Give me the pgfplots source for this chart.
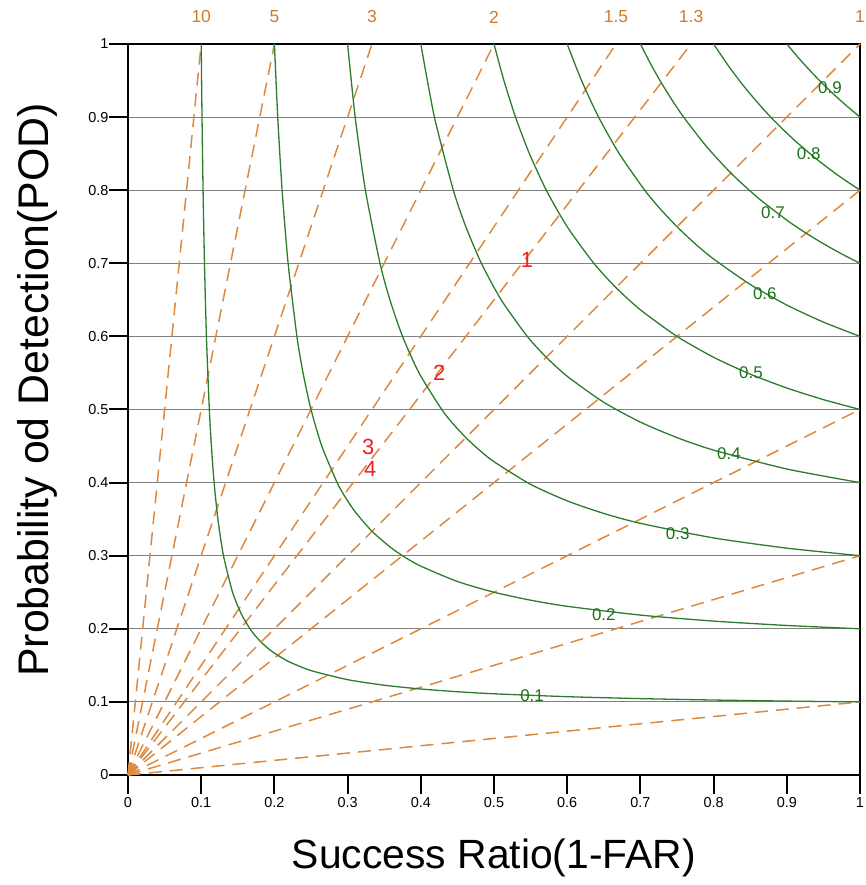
\documentclass[border=0pt]{standalone}
\usepackage{fontspec}
\setmainfont{Liberation Sans}
\usepackage{pgfplots}
\pgfplotsset{compat=1.18}
\definecolor{biasorange}{RGB}{220,138,64}
\definecolor{biastext}{RGB}{206,122,40}
\definecolor{csigreen}{RGB}{44,124,44}
\definecolor{csitext}{RGB}{28,112,28}
\definecolor{ptred}{RGB}{240,30,30}
\begin{document}
\begin{tikzpicture}
\begin{axis}[
  at={(0bp,0bp)}, anchor=south west,
  scale only axis, width=732bp, height=731bp,
  xmin=0, xmax=1, ymin=0, ymax=1,
  clip=false,
  axis line style={line width=2bp, black},
  xtick={0,0.1,0.2,0.3,0.4,0.5,0.6,0.7,0.8,0.9,1},
  ytick={0,0.1,0.2,0.3,0.4,0.5,0.6,0.7,0.8,0.9,1},
  xticklabels={0,0.1,0.2,0.3,0.4,0.5,0.6,0.7,0.8,0.9,1},
  yticklabels={0,0.1,0.2,0.3,0.4,0.5,0.6,0.7,0.8,0.9,1},
  tick pos=left, tick align=outside, major tick length=19bp,
  every tick/.style={black, line width=2bp},
  ymajorgrids, major grid style={color=black!50, line width=1bp},
  /pgf/number format/assume math mode=true,
  ticklabel style={font=\fontsize{14.5}{14.5}\selectfont},
  yticklabel style={xshift=3bp},
  xlabel={Success Ratio(1-FAR)}, ylabel={Probability od Detection(POD)},
  xlabel style={at={(axis description cs:0.5,-0.1135)}, anchor=center, font=\fontsize{41}{41}\selectfont},
  ylabel style={at={(axis description cs:-0.1243,0.527)}, anchor=center, font=\fontsize{43}{43}\selectfont},
]
% bias lines
\pgfplotsset{biasline/.style={biasorange, line width=1.5bp, dash pattern=on 13bp off 8bp}}
\addplot[biasline] coordinates {(0,0) (0.1,1)};
\addplot[biasline] coordinates {(0,0) (0.2,1)};
\addplot[biasline] coordinates {(0,0) (0.33333,1)};
\addplot[biasline] coordinates {(0,0) (0.5,1)};
\addplot[biasline] coordinates {(0,0) (0.66667,1)};
\addplot[biasline] coordinates {(0,0) (0.76923,1)};
\addplot[biasline] coordinates {(0,0) (1,1)};
\addplot[biasline] coordinates {(0,0) (1,0.8)};
\addplot[biasline] coordinates {(0,0) (1,0.5)};
\addplot[biasline] coordinates {(0,0) (1,0.3)};
\addplot[biasline] coordinates {(0,0) (1,0.1)};
% CSI curves
\pgfplotsset{csiline/.style={csigreen, line width=1.3bp, smooth, tension=0.4}}
\addplot[csiline] coordinates {(0.1,1)(0.10112,0.9)(0.10256,0.8)(0.10448,0.7)(0.10714,0.6)(0.11111,0.5)(0.11392,0.45)(0.11765,0.4)(0.12281,0.35)(0.13043,0.3)(0.14286,0.25)(0.15493,0.22)(0.16667,0.2)(0.17431,0.19)(0.18182,0.18182)(0.19,0.17431)(0.2,0.16667)(0.22,0.15493)(0.25,0.14286)(0.3,0.13043)(0.35,0.12281)(0.4,0.11765)(0.45,0.11392)(0.5,0.11111)(0.6,0.10714)(0.7,0.10448)(0.8,0.10256)(0.9,0.10112)(1,0.1)};
\addplot[csiline] coordinates {(0.2,1)(0.20455,0.9)(0.21053,0.8)(0.21875,0.7)(0.23077,0.6)(0.23913,0.55)(0.25,0.5)(0.26471,0.45)(0.28571,0.4)(0.29688,0.38)(0.31034,0.36)(0.33333,0.33333)(0.36,0.31034)(0.38,0.29688)(0.4,0.28571)(0.45,0.26471)(0.5,0.25)(0.55,0.23913)(0.6,0.23077)(0.7,0.21875)(0.8,0.21053)(0.9,0.20455)(1,0.2)};
\addplot[csiline] coordinates {(0.3,1)(0.31034,0.9)(0.32432,0.8)(0.34426,0.7)(0.3578,0.65)(0.375,0.6)(0.39759,0.55)(0.42857,0.5)(0.44444,0.48)(0.46154,0.46154)(0.48,0.44444)(0.5,0.42857)(0.55,0.39759)(0.6,0.375)(0.65,0.3578)(0.7,0.34426)(0.8,0.32432)(0.9,0.31034)(1,0.3)};
\addplot[csiline] coordinates {(0.4,1)(0.4186,0.9)(0.44444,0.8)(0.46154,0.75)(0.48276,0.7)(0.5098,0.65)(0.54545,0.6)(0.57143,0.57143)(0.6,0.54545)(0.65,0.5098)(0.7,0.48276)(0.75,0.46154)(0.8,0.44444)(0.9,0.4186)(1,0.4)};
\addplot[csiline] coordinates {(0.5,1)(0.51351,0.95)(0.52941,0.9)(0.54839,0.85)(0.57143,0.8)(0.6,0.75)(0.63636,0.7)(0.66667,0.66667)(0.7,0.63636)(0.75,0.6)(0.8,0.57143)(0.85,0.54839)(0.9,0.52941)(0.95,0.51351)(1,0.5)};
\addplot[csiline] coordinates {(0.6,1)(0.61957,0.95)(0.64286,0.9)(0.67105,0.85)(0.70588,0.8)(0.72656,0.775)(0.75,0.75)(0.775,0.72656)(0.8,0.70588)(0.85,0.67105)(0.9,0.64286)(0.95,0.61957)(1,0.6)};
\addplot[csiline] coordinates {(0.7,1)(0.71279,0.975)(0.72678,0.95)(0.74212,0.925)(0.75904,0.9)(0.79002,0.86)(0.82353,0.82353)(0.86,0.79002)(0.9,0.75904)(0.925,0.74212)(0.95,0.72678)(0.975,0.71279)(1,0.7)};
\addplot[csiline] coordinates {(0.8,1)(0.8203,0.97)(0.84305,0.94)(0.86874,0.91)(0.88889,0.88889)(0.91,0.86874)(0.94,0.84305)(0.97,0.8203)(1,0.8)};
\addplot[csiline] coordinates {(0.9,1)(0.91684,0.98)(0.93507,0.96)(0.94737,0.94737)(0.96,0.93507)(0.98,0.91684)(1,0.9)};
% CSI labels
\addplot[draw=none, point meta=explicit symbolic, nodes near coords,
  nodes near coords style={anchor=center, text=csitext, font=\fontsize{17}{17}\selectfont}]
  coordinates {(0.552,0.109)[0.1] (0.650,0.219)[0.2] (0.751,0.330)[0.3] (0.821,0.439)[0.4] (0.851,0.550)[0.5] (0.870,0.659)[0.6] (0.881,0.769)[0.7] (0.930,0.850)[0.8] (0.959,0.940)[0.9]};
% bias labels on top
\addplot[draw=none, point meta=explicit symbolic, nodes near coords,
  nodes near coords style={anchor=center, yshift=27bp, text=biastext, font=\fontsize{17.5}{17.5}\selectfont}]
  coordinates {(0.1,1)[10] (0.2,1)[5] (0.33333,1)[3] (0.5,1)[2] (0.66667,1)[1.5] (0.76923,1)[1.3] (1,1)[1]};
% points
\addplot[draw=none, point meta=explicit symbolic, nodes near coords,
  nodes near coords style={anchor=center, text=ptred, font=\fontsize{22}{22}\selectfont}]
  coordinates {(0.545,0.7045)[1] (0.425,0.55)[2] (0.328,0.449)[3] (0.331,0.419)[4]};
\end{axis}
\pgfresetboundingbox
\useasboundingbox (-128bp,-110bp) rectangle (738bp,775bp);
\end{tikzpicture}
\end{document}
